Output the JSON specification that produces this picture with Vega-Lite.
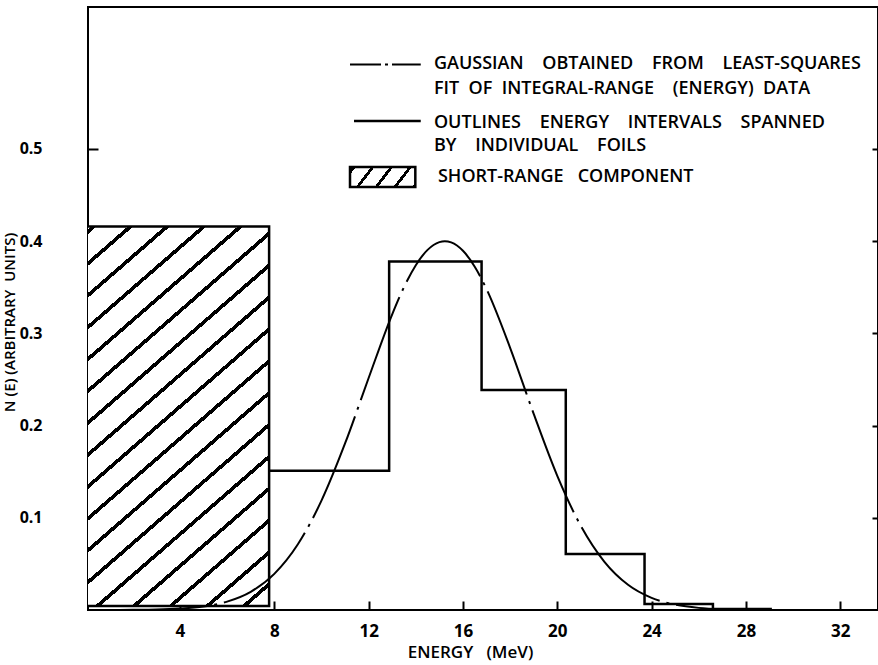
{
  "$schema": "https://vega.github.io/schema/vega-lite/v6.json",
  "width": 790,
  "height": 603,
  "autosize": {"type": "none"},
  "padding": {"left": 88, "top": 7, "right": 0, "bottom": 55},
  "background": "white",
  "config": {
    "view": {"stroke": "black", "strokeWidth": 2},
    "axis": {
      "grid": false,
      "domain": false,
      "tickColor": "black",
      "tickWidth": 2,
      "labelColor": "black",
      "titleColor": "black",
      "labelFont": "Open Sans",
      "titleFont": "Open Sans",
      "labelFontWeight": 700,
      "titleFontWeight": 600,
      "labelFontSize": 17,
      "titleFontSize": 16
    },
    "text": {"font": "Open Sans", "fontWeight": 600, "fontSize": 18, "color": "black"}
  },
  "datasets": {
    "shortRange": [{"e0": 0, "e1": 7.78, "n0": 0.0043, "n1": 0.416}],
    "gaussian": [
      {"e": 0.5, "n": 0.0}, {"e": 1, "n": 0.00005}, {"e": 2, "n": 0.0002}, {"e": 3, "n": 0.0005},
      {"e": 4, "n": 0.0015}, {"e": 5, "n": 0.0038}, {"e": 6, "n": 0.0091}, {"e": 7, "n": 0.0197},
      {"e": 8, "n": 0.0392}, {"e": 9, "n": 0.0713}, {"e": 10, "n": 0.1186}, {"e": 11, "n": 0.1806},
      {"e": 12, "n": 0.2516}, {"e": 13, "n": 0.3207}, {"e": 13.5, "n": 0.3502}, {"e": 14, "n": 0.374},
      {"e": 14.5, "n": 0.3906}, {"e": 15, "n": 0.399}, {"e": 15.23, "n": 0.4}, {"e": 15.5, "n": 0.3987},
      {"e": 16, "n": 0.3896}, {"e": 16.5, "n": 0.3723}, {"e": 17, "n": 0.348}, {"e": 18, "n": 0.2844},
      {"e": 19, "n": 0.2127}, {"e": 20, "n": 0.1455}, {"e": 21, "n": 0.0911}, {"e": 22, "n": 0.0522},
      {"e": 23, "n": 0.0273}, {"e": 24, "n": 0.0131}, {"e": 25, "n": 0.0058}, {"e": 26, "n": 0.0023},
      {"e": 27, "n": 0.0008}, {"e": 28, "n": 0.0003}
    ],
    "foils": [
      {"e": 7.78, "n": 0.151}, {"e": 12.87, "n": 0.378}, {"e": 16.79, "n": 0.2386},
      {"e": 20.36, "n": 0.0607}, {"e": 23.7, "n": 0.0065}, {"e": 26.6, "n": 0.0012}, {"e": 29.1, "n": 0.0012}
    ],
    "legendLines": [
      {"key": "gauss", "e0": 11.21, "e1": 14.21, "n": 0.5917},
      {"key": "foils", "e0": 11.38, "e1": 14.21, "n": 0.5304}
    ],
    "legendBox": [{"e0": 11.21, "e1": 13.98, "n0": 0.4588, "n1": 0.4805}],
    "legendText": [
      {"e": 14.77, "n": 0.5917, "t": "GAUSSIAN\u00a0\u00a0\u00a0\u00a0OBTAINED\u00a0\u00a0\u00a0\u00a0FROM\u00a0\u00a0\u00a0\u00a0LEAST-SQUARES"},
      {"e": 14.77, "n": 0.5656, "t": "FIT\u00a0\u00a0OF\u00a0\u00a0INTEGRAL-RANGE\u00a0\u00a0\u00a0\u00a0(ENERGY)\u00a0\u00a0DATA"},
      {"e": 14.77, "n": 0.5282, "t": "OUTLINES\u00a0\u00a0\u00a0\u00a0ENERGY\u00a0\u00a0\u00a0\u00a0INTERVALS\u00a0\u00a0\u00a0\u00a0SPANNED"},
      {"e": 14.77, "n": 0.5033, "t": "BY\u00a0\u00a0\u00a0\u00a0INDIVIDUAL\u00a0\u00a0\u00a0\u00a0FOILS"},
      {"e": 14.94, "n": 0.4696, "t": "SHORT-RANGE\u00a0\u00a0\u00a0COMPONENT"}
    ]
  },
  "resolve": {"axis": {"x": "independent", "y": "independent"}},
  "layer": [
    {
      "data": {"name": "shortRange"},
      "mark": {
        "type": "rect",
        "clip": true,
        "stroke": "black",
        "strokeWidth": 2.5,
        "fill": {
          "gradient": "linear", "x1": 0, "y1": 0, "x2": 0.5071, "y2": 1.207,
          "stops": [
            {"offset": 0, "color": "white"},
            {"offset": 0.0088, "color": "white"}, {"offset": 0.0088, "color": "black"}, {"offset": 0.0178, "color": "black"}, {"offset": 0.0178, "color": "white"},
            {"offset": 0.0679, "color": "white"}, {"offset": 0.0679, "color": "black"}, {"offset": 0.0769, "color": "black"}, {"offset": 0.0769, "color": "white"},
            {"offset": 0.1271, "color": "white"}, {"offset": 0.1271, "color": "black"}, {"offset": 0.1361, "color": "black"}, {"offset": 0.1361, "color": "white"},
            {"offset": 0.1862, "color": "white"}, {"offset": 0.1862, "color": "black"}, {"offset": 0.1952, "color": "black"}, {"offset": 0.1952, "color": "white"},
            {"offset": 0.2454, "color": "white"}, {"offset": 0.2454, "color": "black"}, {"offset": 0.2544, "color": "black"}, {"offset": 0.2544, "color": "white"},
            {"offset": 0.3045, "color": "white"}, {"offset": 0.3045, "color": "black"}, {"offset": 0.3135, "color": "black"}, {"offset": 0.3135, "color": "white"},
            {"offset": 0.3636, "color": "white"}, {"offset": 0.3636, "color": "black"}, {"offset": 0.3726, "color": "black"}, {"offset": 0.3726, "color": "white"},
            {"offset": 0.4228, "color": "white"}, {"offset": 0.4228, "color": "black"}, {"offset": 0.4318, "color": "black"}, {"offset": 0.4318, "color": "white"},
            {"offset": 0.4819, "color": "white"}, {"offset": 0.4819, "color": "black"}, {"offset": 0.4909, "color": "black"}, {"offset": 0.4909, "color": "white"},
            {"offset": 0.5411, "color": "white"}, {"offset": 0.5411, "color": "black"}, {"offset": 0.5501, "color": "black"}, {"offset": 0.5501, "color": "white"},
            {"offset": 0.6002, "color": "white"}, {"offset": 0.6002, "color": "black"}, {"offset": 0.6092, "color": "black"}, {"offset": 0.6092, "color": "white"},
            {"offset": 0.6593, "color": "white"}, {"offset": 0.6593, "color": "black"}, {"offset": 0.6683, "color": "black"}, {"offset": 0.6683, "color": "white"},
            {"offset": 0.7185, "color": "white"}, {"offset": 0.7185, "color": "black"}, {"offset": 0.7275, "color": "black"}, {"offset": 0.7275, "color": "white"},
            {"offset": 0.7776, "color": "white"}, {"offset": 0.7776, "color": "black"}, {"offset": 0.7866, "color": "black"}, {"offset": 0.7866, "color": "white"},
            {"offset": 0.8368, "color": "white"}, {"offset": 0.8368, "color": "black"}, {"offset": 0.8458, "color": "black"}, {"offset": 0.8458, "color": "white"},
            {"offset": 0.8959, "color": "white"}, {"offset": 0.8959, "color": "black"}, {"offset": 0.9049, "color": "black"}, {"offset": 0.9049, "color": "white"},
            {"offset": 0.955, "color": "white"}, {"offset": 0.955, "color": "black"}, {"offset": 0.964, "color": "black"}, {"offset": 0.964, "color": "white"},
            {"offset": 1, "color": "white"}
          ]
        }
      },
      "encoding": {
        "x": {
          "field": "e0", "type": "quantitative",
          "scale": {"domain": [0.1, 33.6], "nice": false, "zero": false},
          "axis": {
            "orient": "bottom",
            "values": [4, 8, 12, 16, 20, 24, 28, 32],
            "title": "ENERGY\u00a0\u00a0\u00a0(MeV)",
            "titleFontSize": 17,
            "tickSize": -9,
            "labelPadding": 22,
            "titlePadding": 5,
            "titleX": 382
          }
        },
        "x2": {"field": "e1"},
        "y": {
          "field": "n0", "type": "quantitative",
          "scale": {"domain": [0, 0.654], "nice": false, "zero": false},
          "axis": {
            "values": [0.1, 0.2, 0.3, 0.4, 0.5],
            "format": ".1f",
            "title": "N (E) (ARBITRARY\u00a0\u00a0UNITS)",
            "titleFontSize": 15,
            "tickSize": -10,
            "labelPadding": 56,
            "labelFontSize": 16,
            "titleX": -79,
            "titleY": 315,
            "titleBaseline": "middle"
          }
        },
        "y2": {"field": "n1"}
      }
    },
    {
      "data": {"name": "gaussian"},
      "mark": {"type": "line", "color": "black", "strokeWidth": 2, "interpolate": "monotone", "strokeDash": [110, 7, 3, 7]},
      "encoding": {
        "x": {"field": "e", "type": "quantitative", "axis": null},
        "y": {"field": "n", "type": "quantitative", "axis": null}
      }
    },
    {
      "data": {"name": "foils"},
      "mark": {"type": "line", "color": "black", "strokeWidth": 2.5, "interpolate": "step-after"},
      "encoding": {
        "x": {"field": "e", "type": "quantitative", "axis": null},
        "y": {
          "field": "n", "type": "quantitative",
          "axis": {
            "orient": "right",
            "values": [0.1, 0.2, 0.3, 0.4, 0.5],
            "labels": false,
            "title": null,
            "tickSize": -6
          }
        }
      }
    },
    {
      "data": {"name": "legendLines"},
      "transform": [{"filter": "datum.key === 'gauss'"}],
      "mark": {"type": "rule", "color": "black", "strokeWidth": 2, "strokeDash": [31, 4, 3, 4, 40]},
      "encoding": {
        "x": {"field": "e0", "type": "quantitative", "axis": null},
        "x2": {"field": "e1"},
        "y": {"field": "n", "type": "quantitative", "axis": null}
      }
    },
    {
      "data": {"name": "legendLines"},
      "transform": [{"filter": "datum.key === 'foils'"}],
      "mark": {"type": "rule", "color": "black", "strokeWidth": 2.5},
      "encoding": {
        "x": {"field": "e0", "type": "quantitative", "axis": null},
        "x2": {"field": "e1"},
        "y": {"field": "n", "type": "quantitative", "axis": null}
      }
    },
    {
      "data": {"name": "legendBox"},
      "mark": {
        "type": "rect",
        "stroke": "black",
        "strokeWidth": 2.5,
        "fill": {
          "gradient": "linear", "x1": 0, "y1": 0, "x2": 1.1706, "y2": 0.2754,
          "stops": [
            {"offset": 0, "color": "white"},
            {"offset": 0.0274, "color": "white"}, {"offset": 0.0274, "color": "black"}, {"offset": 0.0726, "color": "black"}, {"offset": 0.0726, "color": "white"},
            {"offset": 0.2601, "color": "white"}, {"offset": 0.2601, "color": "black"}, {"offset": 0.3053, "color": "black"}, {"offset": 0.3053, "color": "white"},
            {"offset": 0.4924, "color": "white"}, {"offset": 0.4924, "color": "black"}, {"offset": 0.5376, "color": "black"}, {"offset": 0.5376, "color": "white"},
            {"offset": 0.7254, "color": "white"}, {"offset": 0.7254, "color": "black"}, {"offset": 0.7706, "color": "black"}, {"offset": 0.7706, "color": "white"},
            {"offset": 0.9574, "color": "white"}, {"offset": 0.9574, "color": "black"}, {"offset": 1, "color": "black"}
          ]
        }
      },
      "encoding": {
        "x": {"field": "e0", "type": "quantitative", "axis": null},
        "x2": {"field": "e1"},
        "y": {"field": "n0", "type": "quantitative", "axis": null},
        "y2": {"field": "n1"}
      }
    },
    {
      "data": {"name": "legendText"},
      "mark": {"type": "text", "align": "left", "baseline": "middle"},
      "encoding": {
        "x": {"field": "e", "type": "quantitative", "axis": null},
        "y": {"field": "n", "type": "quantitative", "axis": null},
        "text": {"field": "t"}
      }
    }
  ]
}
